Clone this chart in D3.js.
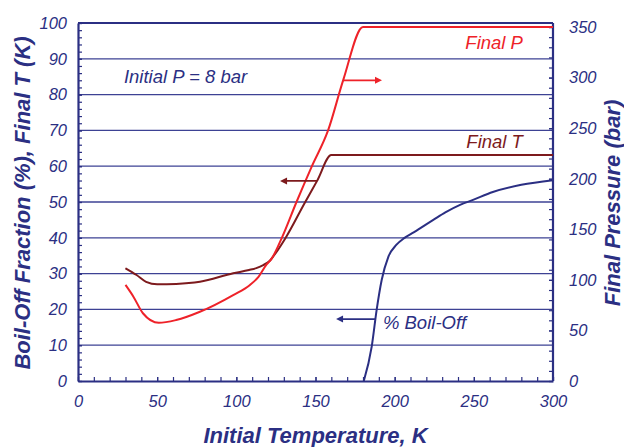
<!DOCTYPE html>
<html>
<head>
<meta charset="utf-8">
<script src="https://cdn.jsdelivr.net/npm/d3@7"></script>
<style>
  body { margin: 0; background: #fff; }
  svg { display: block; font-family: "Liberation Sans", Arial, sans-serif; }
</style>
</head>
<body>
<svg id="chart" width="624" height="447"></svg>
<script>
// --- data ---
const finalT_T = [30, 37, 43, 50, 62, 77, 98, 108, 113, 117, 121, 124, 131, 143, 151, 160, 300];
const finalT_V = [31.5, 29.6, 27.7, 27.0, 27.1, 27.7, 30.1, 31.0, 31.6, 32.4, 33.5, 35.2, 39.9, 49.6, 55.9, 63.1, 63.1];

const finalP_T = [30, 35, 41, 51, 62, 77, 98, 108.6, 114, 119, 122.3, 128.6, 138, 147.6, 158, 167.6, 180, 300];
const finalP_V = [95, 83.4, 67, 57.5, 60.3, 68.5, 85, 95, 103, 115, 121, 141, 177, 212, 248, 298, 350, 350];

const boilOff_T = [180.5, 185.5, 188.6, 191.8, 196, 201, 206, 212, 224.4, 232, 241.3, 249.5, 262, 280, 300];
const boilOff_V = [0, 9.6, 19.8, 28.2, 34.7, 38.0, 39.9, 41.5, 45, 47.1, 49.2, 50.6, 52.8, 54.8, 56.1];

const xTicks = [0, 50, 100, 150, 200, 250, 300];
const yLeftTicks = [0, 10, 20, 30, 40, 50, 60, 70, 80, 90, 100];
const yRightTicks = [0, 50, 100, 150, 200, 250, 300, 350];

const NAVY = "#2b2f83", GRID = "#3d4294", RED = "#ee2229", DKRED = "#7d1a1d";

const svg = d3.select("#chart");
const width = +svg.attr("width"), height = +svg.attr("height");
const margin = { top: 23, right: 71, bottom: 66, left: 78 };
const innerW = width - margin.left - margin.right;
const innerH = height - margin.top - margin.bottom;

const x = d3.scaleLinear().domain([0, 300]).range([0, innerW]);
const yL = d3.scaleLinear().domain([0, 100]).range([innerH, 0]);
const yR = d3.scaleLinear().domain([0, 354]).range([innerH, 0]);

const g = svg.append("g").attr("transform", `translate(${margin.left},${margin.top})`);

// grid lines
g.append("g").selectAll("line").data(yLeftTicks.filter(d => d > 0 && d < 100)).join("line")
  .attr("x1", 0).attr("x2", innerW)
  .attr("y1", d => yL(d)).attr("y2", d => yL(d))
  .attr("stroke", GRID).attr("stroke-width", 1.3);

// top border
g.append("line").attr("x1", 0).attr("x2", innerW).attr("y1", 0).attr("y2", 0)
  .attr("stroke", NAVY).attr("stroke-width", 2);

// axes: minor ticks first, then major with labels
function styleAxis(sel) {
  sel.select(".domain").attr("stroke", NAVY).attr("stroke-width", 2.2);
  sel.selectAll(".tick line").attr("stroke", NAVY).attr("stroke-width", 1.2);
  sel.selectAll(".tick text").attr("fill", NAVY).attr("font-size", 16.5)
    .attr("font-style", "italic");
}
function minorStyle(s) {
  s.select(".domain").remove();
  s.selectAll("line").attr("stroke", NAVY).attr("stroke-width", 1.2);
}

const gx = g.append("g").attr("transform", `translate(0,${innerH})`);
gx.append("g").call(d3.axisBottom(x).tickValues(d3.range(0, 301, 10)).tickSize(-4).tickFormat(""))
  .call(minorStyle);
gx.append("g").call(d3.axisBottom(x).tickValues(xTicks).tickSizeInner(-4).tickSizeOuter(0).tickPadding(14))
  .call(styleAxis);

const gyl = g.append("g");
gyl.append("g").call(d3.axisLeft(yL).tickValues(d3.range(0, 101, 2)).tickSize(-4).tickFormat(""))
  .call(minorStyle);
gyl.append("g").call(d3.axisLeft(yL).tickValues(yLeftTicks).tickSizeInner(-4).tickSizeOuter(0).tickPadding(11))
  .call(styleAxis);

const gyr = g.append("g").attr("transform", `translate(${innerW},0)`);
gyr.append("g").call(d3.axisRight(yR).tickValues(d3.range(0, 351, 10)).tickSize(-4).tickFormat(""))
  .call(minorStyle);
gyr.append("g").call(d3.axisRight(yR).tickValues(yRightTicks).tickSizeInner(-4).tickSizeOuter(0).tickPadding(16))
  .call(styleAxis);
gyr.select(".domain").attr("d", `M0,0V${innerH}`);

// lines
const lineL = d3.line().x(d => x(d[0])).y(d => yL(d[1])).curve(d3.curveMonotoneX);
const lineR = d3.line().x(d => x(d[0])).y(d => yR(d[1])).curve(d3.curveMonotoneX);

g.append("path").datum(d3.zip(finalT_T, finalT_V))
  .attr("fill", "none").attr("stroke", DKRED).attr("stroke-width", 2).attr("d", lineL);
g.append("path").datum(d3.zip(finalP_T, finalP_V))
  .attr("fill", "none").attr("stroke", RED).attr("stroke-width", 2).attr("d", lineR);
g.append("path").datum(d3.zip(boilOff_T, boilOff_V))
  .attr("fill", "none").attr("stroke", NAVY).attr("stroke-width", 2).attr("d", lineL);

// arrows (data units)
function arrow(t0, t1, v, color) {
  const x0 = x(t0), x1 = x(t1), y = yL(v);
  const dir = Math.sign(x1 - x0);
  g.append("line").attr("x1", x0).attr("x2", x1 - dir * 4).attr("y1", y).attr("y2", y)
    .attr("stroke", color).attr("stroke-width", 1.8);
  g.append("path")
    .attr("d", `M${x1},${y}L${x1 - dir * 7},${y - 3.5}L${x1 - dir * 7},${y + 3.5}Z`)
    .attr("fill", color);
}
arrow(151, 127.6, 55.9, DKRED);
arrow(167.4, 192, 84, RED);
arrow(187.6, 163, 17.3, NAVY);

// annotations
function label(t, v, txt, color, anchor) {
  g.append("text").attr("x", x(t)).attr("y", yL(v)).attr("text-anchor", anchor)
    .attr("fill", color).attr("font-size", 18.5).attr("font-style", "italic").text(txt);
}
label(29, 83.2, "Initial P = 8 bar", NAVY, "start");
label(281, 92.7, "Final P", RED, "end");
label(281, 65.1, "Final T", DKRED, "end");
label(192.6, 14.5, "% Boil-Off", NAVY, "start");

// axis titles
const titleFont = s => s.attr("text-anchor", "middle").attr("fill", NAVY)
  .attr("font-size", 22).attr("font-weight", "bold").attr("font-style", "italic");

svg.append("text").attr("x", margin.left + innerW / 2).attr("y", 443)
  .call(titleFont).text("Initial Temperature, K");

svg.append("text").attr("transform", `translate(30,203) rotate(-90)`)
  .call(titleFont).text("Boil-Off Fraction (%), Final T (K)");

svg.append("text").attr("transform", `translate(620,203) rotate(-90)`)
  .call(titleFont).text("Final Pressure (bar)");
</script>
</body>
</html>
